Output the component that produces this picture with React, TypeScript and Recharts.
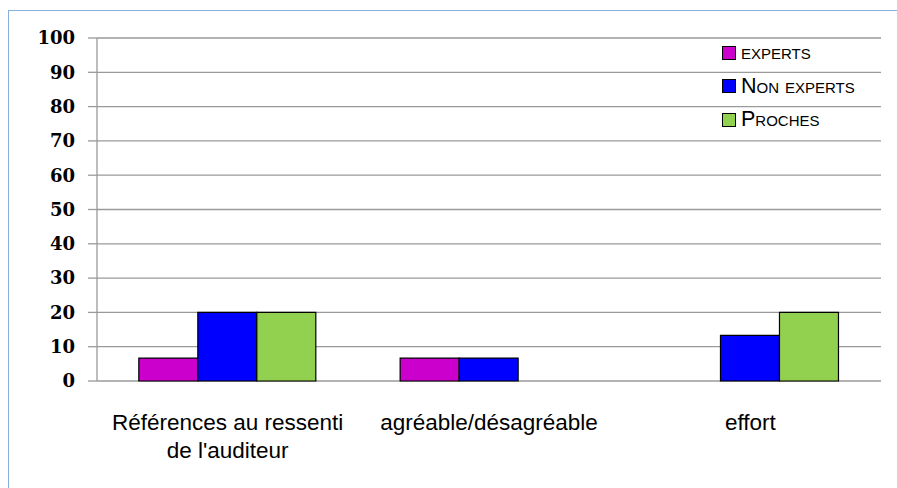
import React from 'react';
import { BarChart, Bar, XAxis, YAxis, CartesianGrid } from 'recharts';

const categories = ["Références au ressenti|de l'auditeur", 'agréable/désagréable', 'effort'];
const experts = [6.67, 6.67, 0];
const nonExperts = [20, 6.67, 13.33];
const proches = [20, 0, 20];
const yTicks = [0, 10, 20, 30, 40, 50, 60, 70, 80, 90, 100];

const seriesInfo = [
  { key: 'experts', label: 'experts', color: '#CC00CC' },
  { key: 'nonExperts', label: 'Non experts', color: '#0000FF' },
  { key: 'proches', label: 'Proches', color: '#92D050' },
];

const data = categories.map((cat, i) => ({
  cat,
  pos: i,
  experts: experts[i],
  nonExperts: nonExperts[i],
  proches: proches[i],
}));

const GRID = '#9a9a9a';

const CategoryTick = ({ x, y, payload }: any) => {
  const lines = String(payload.value).split('|');
  return (
    <text
      x={x}
      y={y}
      textAnchor="middle"
      fill="#000"
      style={{ fontFamily: '"Liberation Sans", Arial, sans-serif', fontSize: 22.5 }}
    >
      {lines.map((l, i) => (
        <tspan key={i} x={x} dy={i === 0 ? 49 : 28}>
          {l}
        </tspan>
      ))}
    </text>
  );
};

// legend drawn as plain html so it does not shrink the plot
const LegendBox = () => (
  <div
    style={{
      position: 'absolute',
      left: 722,
      top: 36,
      fontFamily: '"Liberation Sans", Arial, sans-serif',
      fontSize: 21.5,
      color: '#000',
    }}
  >
    {seriesInfo.map((s) => (
      <div key={s.key} style={{ display: 'flex', alignItems: 'center', height: 33.5 }}>
        <span
          style={{
            width: 12,
            height: 12,
            background: s.color,
            border: '1px solid #000',
            marginRight: 5,
            display: 'inline-block',
          }}
        />
        <span style={{ fontVariant: 'small-caps', lineHeight: 1 }}>{s.label}</span>
      </div>
    ))}
  </div>
);

export default function App() {
  return (
    <div style={{ position: 'fixed', left: 0, top: 0, width: 897, height: 488, background: '#fff', overflow: 'hidden' }}>
      <div
        style={{
          position: 'absolute',
          left: 8,
          top: 10,
          width: 900,
          height: 490,
          border: '1px solid #8aaee0',
          boxSizing: 'border-box',
        }}
      />
      <div style={{ position: 'absolute', left: 0, top: 0 }}>
        <BarChart
          width={897}
          height={488}
          data={data}
          margin={{ top: 38, right: 16, left: 0, bottom: 0 }}
          barCategoryGap="16%"
          barGap={0}
        >
          <CartesianGrid xAxisId="cat" vertical={false} stroke={GRID} strokeWidth={1.3} />
          <XAxis
            xAxisId="grid"
            dataKey="pos"
            type="number"
            domain={[0, 3]}
            ticks={[0, 1, 2, 3]}
            tick={false}
            tickSize={8}
            height={0}
            axisLine={{ stroke: GRID, strokeWidth: 1.3 }}
            tickLine={{ stroke: GRID, strokeWidth: 1.3 }}
          />
          <XAxis
            xAxisId="cat"
            dataKey="cat"
            axisLine={false}
            tickLine={false}
            tickSize={0}
            tickMargin={0}
            height={107}
            interval={0}
            tick={<CategoryTick />}
          />
          <YAxis
            domain={[0, 100]}
            ticks={yTicks}
            width={97}
            tickSize={9}
            tickMargin={13}
            axisLine={{ stroke: GRID, strokeWidth: 1.3 }}
            tickLine={{ stroke: GRID, strokeWidth: 1.3 }}
            tick={{ fill: '#000', fontFamily: '"DejaVu Serif", serif', fontWeight: 700, fontSize: 18 }}
          />
          {seriesInfo.map((s) => (
            <Bar
              key={s.key}
              xAxisId="cat"
              dataKey={s.key}
              fill={s.color}
              stroke="#000"
              strokeWidth={1.2}
              isAnimationActive={false}
            />
          ))}
        </BarChart>
      </div>
      <LegendBox />
    </div>
  );
}
